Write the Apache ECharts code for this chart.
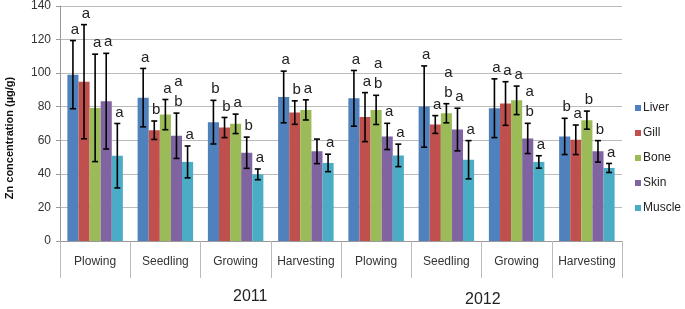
<!DOCTYPE html>
<html>
<head>
<meta charset="utf-8">
<script src="https://cdn.jsdelivr.net/npm/echarts@6/dist/echarts.min.js"></script>
<style>
  html, body { margin: 0; padding: 0; background: #fff; }
  #chart { width: 685px; height: 309px; }
</style>
</head>
<body>
<div id="chart"></div>
<script>
// stages (two years x four stages)
var categories = ['Plowing', 'Seedling', 'Growing', 'Harvesting', 'Plowing', 'Seedling', 'Growing', 'Harvesting'];
var years = ['2011', '2012'];
var yTicks = [0, 20, 40, 60, 80, 100, 120, 140];
var tissues = ['Liver', 'Gill', 'Bone', 'Skin', 'Muscle'];

// Zn concentration means (µg/g)
var liver  = [99.1, 85.4, 70.8, 85.8, 85.0, 80.1, 79.1, 62.3];
var gill   = [94.9, 66.0, 67.6, 76.5, 73.8, 69.4, 81.9, 60.3];
var bone   = [79.3, 75.3, 69.8, 78.1, 78.1, 76.1, 83.8, 72.0];
var skin   = [83.3, 62.7, 52.6, 53.4, 62.3, 66.4, 61.1, 53.4];
var muscle = [50.8, 47.1, 39.7, 46.5, 51.0, 48.4, 47.1, 43.5];

// error (+/-)
var liverErr  = [20.3, 17.4, 13.0, 15.4, 16.6, 24.2, 17.5, 10.8];
var gillErr   = [34.0, 5.5, 6.0, 7.0, 14.6, 5.3, 13.0, 8.8];
var boneErr   = [32.0, 9.0, 5.8, 6.0, 8.7, 5.7, 8.5, 5.4];
var skinErr   = [28.5, 13.5, 9.3, 7.3, 7.8, 12.7, 9.0, 6.4];
var muscleErr = [19.2, 9.5, 3.2, 5.2, 6.7, 11.4, 3.7, 2.7];

// significance letters
var liverLab  = ['a', 'a', 'b', 'a', 'a', 'a', 'a', 'b'];
var gillLab   = ['a', 'b', 'b', 'b', 'a', 'a', 'a', 'a'];
var boneLab   = ['a', 'a', 'a', 'a', 'a\nb', 'a\nb', 'a', 'b'];
var skinLab   = ['a', 'a\nb', 'b', '', 'a', 'a', 'a\nb', 'b'];
var muscleLab = ['a', 'a', 'a', 'a', 'a', 'a', 'a', 'a'];

var colors = ['#4F81BD', '#C0504D', '#9BBB59', '#8064A2', '#4BACC6'];
var values = [liver, gill, bone, skin, muscle];
var errs = [liverErr, gillErr, boneErr, skinErr, muscleErr];
var labs = [liverLab, gillLab, boneLab, skinLab, muscleLab];

var gapRatio = 0.21;
var font = '"Liberation Sans", Arial, sans-serif';

var chart = echarts.init(document.getElementById('chart'));

var series = [];
tissues.forEach(function (name, i) {
    series.push({
        name: name,
        type: 'bar',
        data: values[i],
        itemStyle: { color: colors[i] },
        barGap: '0%',
        barCategoryGap: (gapRatio * 100) + '%'
    });
});

// error bars + letters
tissues.forEach(function (name, i) {
    var data = values[i].map(function (v, k) { return [k, v, errs[i][k]]; });
    series.push({
        type: 'custom',
        name: name + '_err',
        silent: true,
        z: 5,
        data: data,
        encode: { x: 0, y: 1 },
        renderItem: function (params, api) {
            var k = api.value(0), v = api.value(1), e = api.value(2);
            var band = api.size([1, 0])[0];
            var bw = band * (1 - gapRatio) / 5;
            var c = api.coord([k, v]);
            var x = c[0] + (i - 2) * bw;
            var hi = api.coord([k, v + e])[1];
            var lo = api.coord([k, v - e])[1];
            var cap = 3;
            var st = { stroke: '#000', lineWidth: 1.6 };
            return {
                type: 'group',
                children: [
                    { type: 'line', shape: { x1: x, y1: hi, x2: x, y2: lo }, style: st },
                    { type: 'line', shape: { x1: x - cap, y1: hi, x2: x + cap, y2: hi }, style: st },
                    { type: 'line', shape: { x1: x - cap, y1: lo, x2: x + cap, y2: lo }, style: st },
                    { type: 'text', style: {
                        text: labs[i][k], x: x + 2, y: hi - 1,
                        align: 'center', verticalAlign: 'bottom',
                        font: '15px ' + font, fill: '#222', lineHeight: 20
                    } }
                ]
            };
        }
    });
});

var option = {
    animation: false,
    color: colors,
    grid: { left: 60, right: 63, top: 6, bottom: 68 },
    legend: {
        orient: 'vertical',
        left: 630,
        top: 97,
        icon: 'rect',
        itemWidth: 6,
        itemHeight: 6,
        itemGap: 13,
        data: tissues,
        textStyle: { fontFamily: font, fontSize: 12, color: '#222', padding: [0, 0, 0, -3] }
    },
    xAxis: {
        type: 'category',
        data: categories,
        axisLine: { lineStyle: { color: '#999' } },
        axisTick: { show: true, length: 37, lineStyle: { color: '#bbb' } },
        axisLabel: { interval: 0, fontFamily: font, fontSize: 12, color: '#333', margin: 15 }
    },
    yAxis: {
        type: 'value',
        min: yTicks[0],
        max: yTicks[yTicks.length - 1],
        interval: 20,
        axisLine: { show: true, lineStyle: { color: '#999' } },
        axisTick: { show: true, length: 4, lineStyle: { color: '#999' } },
        axisLabel: { fontFamily: font, fontSize: 12, color: '#333', margin: 9 },
        splitLine: { lineStyle: { color: '#bbb' } }
    },
    graphic: [
        { type: 'text', left: 233, top: 289, style: { text: years[0], font: '16px ' + font, fill: '#222' } },
        { type: 'text', left: 465, top: 292, style: { text: years[1], font: '16px ' + font, fill: '#222' } },
        { type: 'text', x: 10, y: 138, rotation: Math.PI / 2,
          style: { text: 'Zn concentration (µg/g)', font: 'bold 11px ' + font, fill: '#111',
                   align: 'center', verticalAlign: 'middle' } }
    ],
    series: series
};

chart.setOption(option);
</script>
</body>
</html>
